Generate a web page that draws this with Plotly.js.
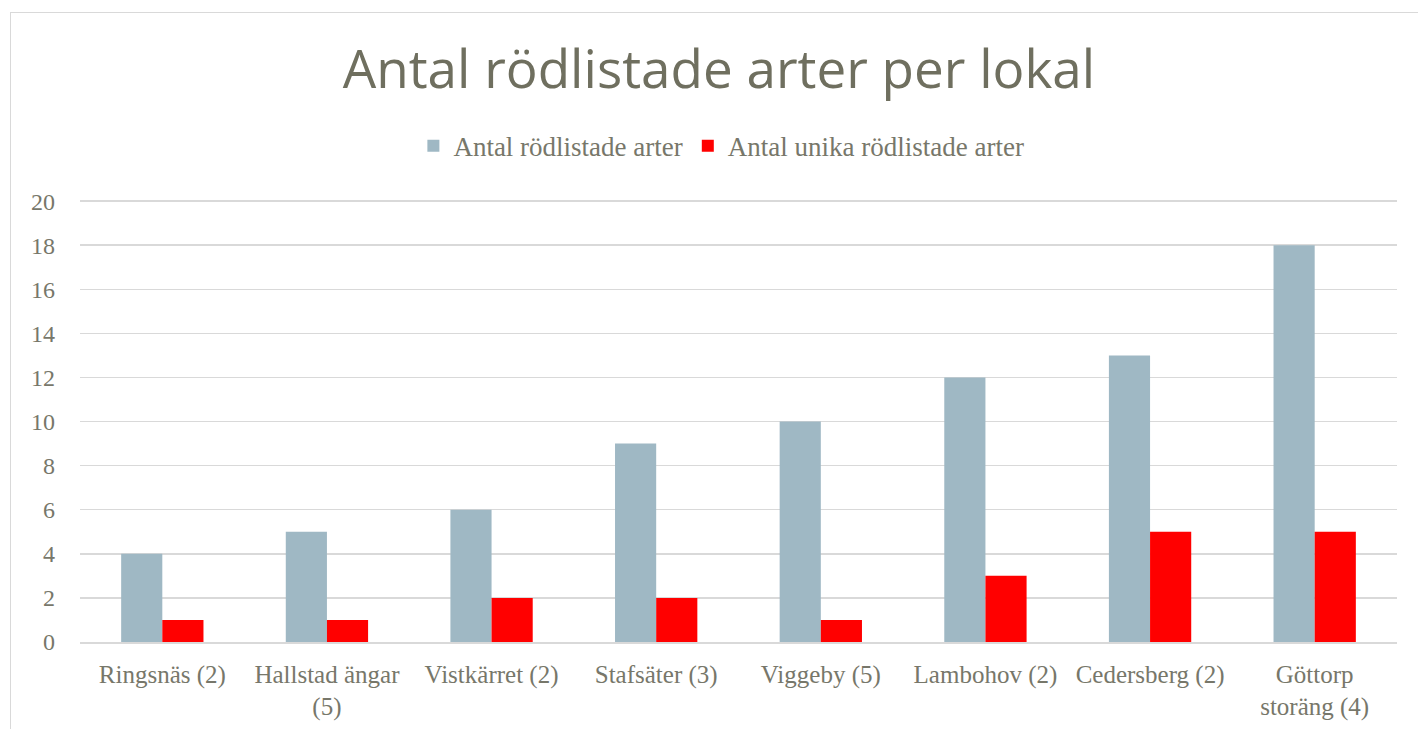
<!DOCTYPE html>
<html>
<head>
<meta charset="utf-8">
<script src="https://cdn.plot.ly/plotly-3.0.1.min.js"></script>
<style>
  html, body { margin: 0; padding: 0; background: #ffffff; overflow: hidden; }
  #chart { position: absolute; left: 0; top: 0; width: 1418px; height: 729px; }
  #frame { position: absolute; left: 10px; top: 12px; width: 1420px; height: 740px;
           border: 1.5px solid #d9d9d9; pointer-events: none; }
</style>
</head>
<body>
<div id="chart"></div>
<div id="frame"></div>
<script>
const categories = [
  "Ringsnäs (2)", "Hallstad ängar<br>(5)", "Vistkärret (2)", "Stafsäter (3)",
  "Viggeby (5)", "Lambohov (2)", "Cedersberg (2)", "Göttorp<br>storäng (4)"
];
const seriesNames = ["Antal rödlistade arter", "Antal unika rödlistade arter"];
const totalSpecies = [4, 5, 6, 9, 10, 12, 13, 18];
const uniqueSpecies = [1, 1, 2, 2, 1, 3, 5, 5];
const yTicks = [0, 2, 4, 6, 8, 10, 12, 14, 16, 18, 20];

const textColor = "#77776a";
const serif = "'Liberation Serif', 'DejaVu Serif', serif";

const data = [
  { type: "bar", name: seriesNames[0], x: categories, y: totalSpecies,
    marker: { color: "#9fb8c4" } },
  { type: "bar", name: seriesNames[1], x: categories, y: uniqueSpecies,
    marker: { color: "#ff0000" } }
];

const layout = {
  width: 1418, height: 729,
  paper_bgcolor: "#ffffff", plot_bgcolor: "#ffffff",
  margin: { l: 80, r: 21, t: 200, b: 87 },
  barmode: "group", bargap: 0.5, bargroupgap: 0,
  title: {
    text: "Antal rödlistade arter per lokal",
    font: { family: "'Open Sans', sans-serif", size: 53, color: "#6f6f5f" },
    x: 0.507, xanchor: "center", y: 0.905, yanchor: "middle", yref: "container"
  },
  showlegend: true,
  legend: {
    orientation: "h", x: 0.487, xanchor: "center", y: 1.122, yanchor: "middle",
    font: { family: serif, size: 27, color: textColor },
    itemwidth: 30, traceorder: "normal"
  },
  xaxis: {
    type: "category",
    showline: true, linecolor: "#d9d9d9", linewidth: 1.5,
    showgrid: false, zeroline: false,
    ticks: "", ticklabelstandoff: 9,
    tickfont: { family: serif, size: 25, color: textColor }
  },
  yaxis: {
    range: [0, 20.05], tickvals: yTicks, ticktext: yTicks.map(String),
    showgrid: true, gridcolor: "#d9d9d9", gridwidth: 1.5,
    zeroline: false, showline: false, ticks: "", ticklabelstandoff: 24,
    tickfont: { family: serif, size: 24, color: textColor }
  }
};

Plotly.newPlot("chart", data, layout, { displayModeBar: false, staticPlot: true });
</script>
</body>
</html>
